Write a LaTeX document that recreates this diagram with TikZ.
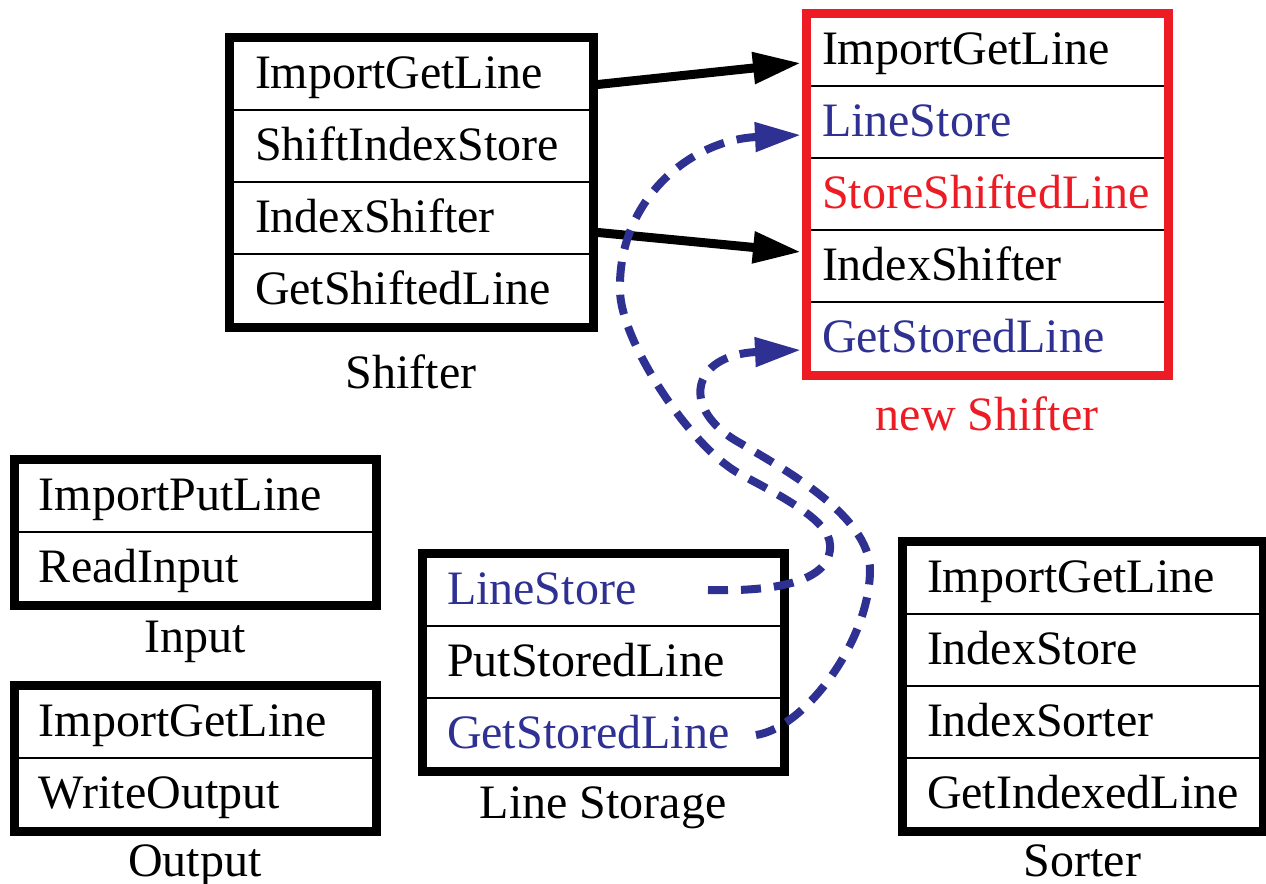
\documentclass[tikz,border=0pt]{standalone}
\usepackage{fontspec}
\setmainfont{Liberation Serif}
\usetikzlibrary{arrows.meta,calc}
\definecolor{dblue}{RGB}{46,49,146}
\definecolor{dred}{RGB}{237,28,36}
\hyphenpenalty=10000
\exhyphenpenalty=10000
\begin{document}
\begin{tikzpicture}[x=0.5pt,y=-0.5pt,
  font=\fontsize{24}{28}\selectfont,
  row/.style={draw=black, line width=1pt, minimum height=36pt, inner ysep=0pt,
    align=left, text height=14pt, text depth=0pt},
  rowA/.style={row, text width=156pt, inner xsep=12.5pt},
  rowB/.style={row, text width=165pt, inner xsep=7.5pt},
  rowC/.style={row, text width=156pt, inner xsep=12pt},
  rowD/.style={row, text width=155.5pt, inner xsep=12pt},
  frame/.style={draw=black, line width=4.5pt},
  redframe/.style={draw=dred, line width=4.5pt},
  lab/.style={anchor=base, inner sep=0pt},
  solidarrow/.style={draw=black, line width=4.5pt, -{Triangle[length=24pt,width=15pt]}},
  dasharrow/.style={draw=dblue, line width=4pt, dash pattern=on 10pt off 6.5pt,
    -{Triangle[length=23pt,width=14pt]}}
]
\useasboundingbox (0,0) rectangle (1266,884);

% Shifter
\node[rowA] (sh1) at (411,74) {ImportGetLine};
\node[rowA] (sh2) at (411,146) {ShiftIndexStore};
\node[rowA] (sh3) at (411,218) {IndexShifter};
\node[rowA] (sh4) at (411,290) {GetShiftedLine};
\draw[frame] (sh1.north west) rectangle (sh4.south east);
\node[lab] (shl) at (411,388) {Shifter};

% new Shifter
\node[rowB] (ns1) at (987,50) {ImportGetLine};
\node[rowB, text=dblue] (ns2) at (987,122) {LineStore};
\node[rowB, text=dred] (ns3) at (987,194) {StoreShiftedLine};
\node[rowB] (ns4) at (987,266) {IndexShifter};
\node[rowB, text=dblue] (ns5) at (987,338) {GetStoredLine};
\draw[redframe] (ns1.north west) rectangle (ns5.south east);
\node[lab, text=dred] (nsl) at (987,430) {new Shifter};

% Input
\node[rowC] (in1) at (195,496) {ImportPutLine};
\node[rowC] (in2) at (195,568) {ReadInput};
\draw[frame] (in1.north west) rectangle (in2.south east);
\node[lab] (inl) at (195,652) {Input};

% Output
\node[rowC] (out1) at (195,722) {ImportGetLine};
\node[rowC] (out2) at (195,794) {WriteOutput};
\draw[frame] (out1.north west) rectangle (out2.south east);
\node[lab] (outl) at (195,876) {Output};

% Line Storage
\node[rowC, text=dblue] (ls1) at (603,590) {LineStore};
\node[rowC] (ls2) at (603,662) {PutStoredLine};
\node[rowC, text=dblue] (ls3) at (603,734) {GetStoredLine};
\draw[frame] (ls1.north west) rectangle (ls3.south east);
\node[lab] (lsl) at (603,818) {Line Storage};

% Sorter
\node[rowD] (so1) at (1082.5,578) {ImportGetLine};
\node[rowD] (so2) at (1082.5,650) {IndexStore};
\node[rowD] (so3) at (1082.5,722) {IndexSorter};
\node[rowD] (so4) at (1082.5,794) {GetIndexedLine};
\draw[frame] (so1.north west) rectangle (so4.south east);
\node[lab] (sol) at (1082.5,876) {Sorter};

% solid arrows
\draw[solidarrow] ([yshift=-5.5pt]sh1.east) -- ([xshift=-2.5pt,yshift=-6.5pt]ns1.west);
\draw[solidarrow] ([yshift=-7pt]sh3.east) -- ([xshift=-2.5pt,yshift=7pt]ns4.west);

% dashed arrows
\draw[dasharrow] ($(ls1.east)+(-76,0)$)
  .. controls (780,592) and (832,580) .. (830,545)
  .. controls (830,520) and (777,494) .. (740,474)
  .. controls (690,447) and (620,340) .. (620,290)
  .. controls (618,200) and (690,140) .. ([xshift=-2.5pt,yshift=-6.5pt]ns2.west);
\draw[dasharrow] ($(ls3.east)+(-28,1)$)
  .. controls (805,728) and (870,640) .. (870,570)
  .. controls (870,515) and (780,467) .. (740,443)
  .. controls (680,410) and (690,355) .. ([xshift=-2.5pt,yshift=-6pt]ns5.west);
\end{tikzpicture}
\end{document}
